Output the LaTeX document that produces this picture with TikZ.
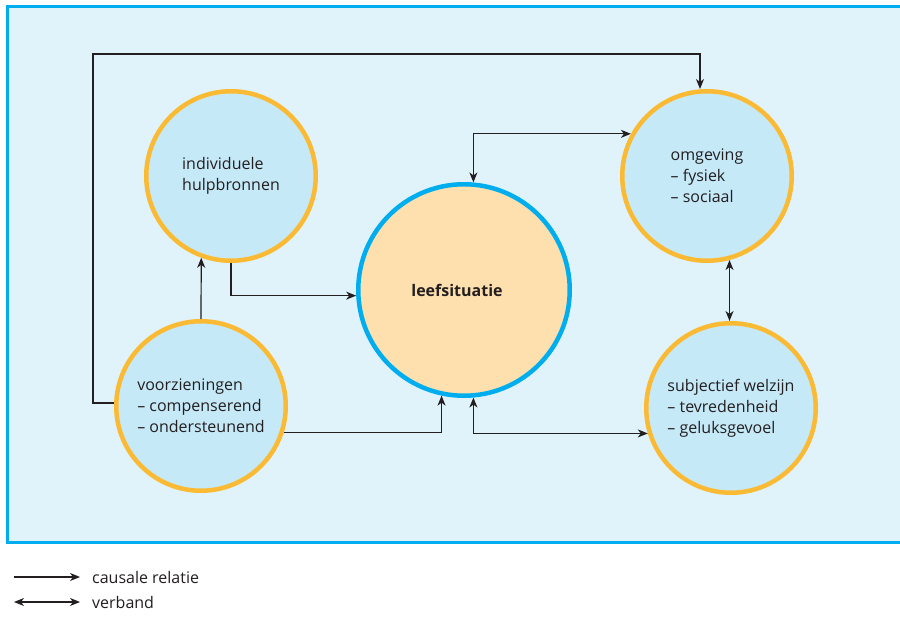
\documentclass[tikz,border=0pt]{standalone}
\usepackage{fontspec}
\setmainfont{Open Sans}
\usepackage{tikz}
\usetikzlibrary{arrows.meta,positioning}
\definecolor{bgblue}{HTML}{E0F3FB}
\definecolor{frameblue}{HTML}{00AEEF}
\definecolor{circblue}{HTML}{C6E9F8}
\definecolor{ringorange}{HTML}{FBBA33}
\definecolor{leefbeige}{HTML}{FDE0AD}
\definecolor{inkgray}{HTML}{231F20}

\begin{document}
\begin{tikzpicture}[x=1pt,y=-1pt,font=\fontsize{16}{21}\selectfont,
  bol/.style={circle,draw=ringorange,fill=circblue,line width=4.5pt,
    minimum size=169.5pt,inner sep=0pt,align=left,text=inkgray},
  pijl/.style={line width=1.2pt,draw=inkgray},
  causaal/.style={pijl,-{Stealth[length=10pt,width=8pt,inset=3pt]}},
  verband/.style={pijl,{Stealth[length=10pt,width=8pt,inset=3pt]}-{Stealth[length=10pt,width=8pt,inset=3pt]}},
  legtxt/.style={inner sep=0pt,text=inkgray}]
\useasboundingbox (0,0) rectangle (900,631);
\clip (0,0) rectangle (900,631);
\fill[white] (0,0) rectangle (900,631);
\draw[frameblue,fill=bgblue,line width=3pt] (7,7) rectangle (910,542);

% cirkels
\node[bol] (hulp) at (231,176) {individuele\\hulpbronnen};
\node[bol,draw=frameblue,fill=leefbeige,minimum size=211.5pt,font=\fontsize{16}{21}\selectfont\bfseries] (leef) at (464,290) {leefsituatie\hspace*{14pt}};
\node[bol] (omg) at (707,176) {omgeving\\-- fysiek\\-- sociaal};
\node[bol] (voorz) at (201,406) {voorzieningen\\-- compenserend\\-- ondersteunend};
\node[bol] (subj) at (731,408) {subjectief welzijn\\-- tevredenheid\\-- geluksgevoel};

% relaties
\coordinate (lus) at (93,54);
\draw[causaal] (voorz.178) -| (lus) -| ([xshift=-7pt]omg.north);
\draw[causaal] (voorz.north) -- (hulp.250);
\draw[causaal] (hulp.south) |- (leef.183);
\draw[causaal] (voorz.342) -| (leef.258);
\draw[verband] (leef.85) |- (omg.151);
\draw[verband] (leef.275) |- (subj.197);
\draw[verband] (omg.285) -- (omg.285 |- subj.north);

% legenda
\coordinate (lc0) at (14,577);
\coordinate (lc1) at (80,577);
\coordinate (lv0) at (14,602);
\coordinate (lv1) at (80,602);
\draw[causaal] (lc0) -- (lc1);
\draw[verband] (lv0) -- (lv1);
\node[legtxt,right=12pt of lc1] (lcaus) {causale relatie};
\node[legtxt,right=12pt of lv1] (lverb) {verband};
\end{tikzpicture}
\end{document}
